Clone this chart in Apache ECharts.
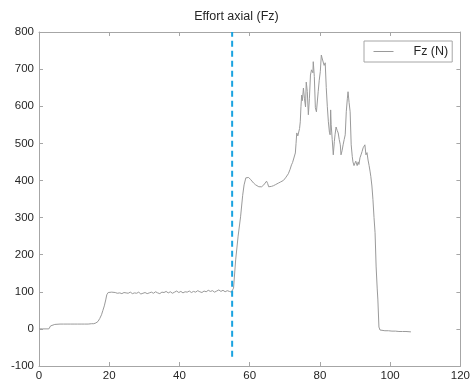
<!DOCTYPE html>
<html>
<head>
<meta charset="utf-8">
<script src="https://cdn.jsdelivr.net/npm/echarts@6/dist/echarts.min.js"></script>
<style>
html,body{margin:0;padding:0;background:#fff;}
#chart{width:473px;height:383px;}
</style>
</head>
<body>
<div id="chart"></div>
<script>
// ---- data ----
var titleText = 'Effort axial (Fz)';
var seriesName = 'Fz (N)';
var xTicks = [0, 20, 40, 60, 80, 100, 120];
var yTicks = [-100, 0, 100, 200, 300, 400, 500, 600, 700, 800];

var timeX = [
  0, 1, 2, 2.8, 3.3, 3.7, 4.5, 5, 6, 7, 8, 9, 10, 11, 12, 13, 14, 15, 15.6, 16.2,
  16.8, 17.3, 17.8, 18.2, 18.6, 19, 19.3, 19.7, 20.2, 20.7, 21.2, 21.7, 22.3, 23, 23.6, 24.2,
  24.8, 25.4, 26, 26.6, 27.2, 27.8, 28.4, 29, 29.6, 30.2, 30.8, 31.4, 32, 32.6, 33.2, 33.8,
  34.4, 35, 35.6, 36.2, 36.8, 37.4, 38, 38.6, 39.2, 39.8, 40.4, 41, 41.6, 42.2, 42.8, 43.4,
  44, 44.6, 45.2, 45.8, 46.4, 47, 47.6, 48.2, 48.8, 49.4, 50, 50.6, 51.2, 51.8, 52.4, 53,
  53.6, 54.2, 54.8, 55.2, 55.4, 56, 56.7, 57.4, 58, 58.4, 58.9, 59.3, 59.7, 60.3, 60.7, 61.1,
  61.7, 62, 62.6, 63.4, 64, 64.5, 64.8, 65.1, 65.4, 66.2, 66.8, 67.4, 68.2, 68.8, 69.1, 69.6,
  70.2, 70.6, 71, 71.5, 71.9, 72.2, 72.5, 73, 73.2, 73.4, 73.7, 73.9, 74.2, 74.4, 74.6, 74.8,
  75, 75.3, 75.6, 75.9, 76.1, 76.4, 76.7, 77, 77.3, 77.6, 78, 78.1, 78.4, 78.7, 79, 79.2,
  79.5, 79.8, 80.1, 80.4, 80.6, 80.9, 81.2, 81.5, 81.8, 82.1, 82.4, 82.7, 82.9, 83.05, 83.2, 83.5,
  83.8, 84.1, 84.3, 84.6, 84.9, 85.2, 85.5, 85.8, 86, 86.3, 86.6, 86.9, 87.2, 87.5, 87.8, 88,
  88.3, 88.6, 88.9, 89.2, 89.4, 89.7, 90, 90.2, 90.3, 90.6, 90.9, 91.1, 91.4, 91.7, 92, 92.3,
  92.6, 92.8, 93.1, 93.4, 93.7, 94, 94.3, 94.5, 94.8, 95.1, 95.4, 95.7, 96, 96.3, 96.5, 96.8,
  97.1, 97.6, 98.5, 99.5, 100.5, 101.5, 102.5, 103.5, 104.5, 105.9
];
var fzValues = [
  0, 0, 0, 0, 8, 12, 12, 13, 13, 13, 13, 13, 13, 13, 13, 13, 13, 14, 14, 16,
  20, 28, 38, 50, 62, 78, 92, 98, 95, 99, 96, 98, 96, 97, 95, 98,
  97, 96, 99, 95, 97, 96, 99, 94, 96, 98, 95, 97, 99, 96, 100, 97,
  95, 99, 98, 101, 97, 100, 96, 99, 102, 98, 101, 97, 100, 99, 102, 98,
  101, 99, 103, 100, 98, 102, 100, 104, 101, 103, 99, 102, 105, 101, 104, 100,
  103, 101, 99, 102, 110, 186, 250, 302, 360, 388, 407, 405, 408, 402, 404, 393,
  388, 393, 383, 383, 388, 393, 398, 392, 383, 384, 386, 389, 393, 396, 392, 400,
  407, 412, 418, 430, 442, 448, 450, 474, 500, 528, 520, 515, 540, 558, 600, 630,
  615, 649, 620, 598, 665, 640, 577, 620, 684, 698, 690, 720, 680, 596, 585, 590,
  639, 670, 693, 738, 730, 725, 710, 717, 650, 600, 558, 530, 523, 590, 550, 510,
  469, 505, 523, 544, 535, 528, 510, 496, 469, 480, 496, 510, 523, 585, 620, 639,
  610, 585, 496, 465, 450, 440, 442, 452, 447, 440, 450, 443, 461, 469, 478, 488,
  492, 496, 469, 475, 455, 440, 423, 410, 385, 348, 300, 259, 167, 110, 78, 5,
  -3, -4, -5, -5, -6, -6, -7, -7, -7, -8
];

// vertical dashed marker
var markerX = [55, 55];
var markerY = [-75, 800];

// ---- build ----
var lineData = timeX.map(function (x, i) { return [x, fzValues[i]]; });
var markerData = markerX.map(function (x, i) { return [x, markerY[i]]; });

var axisCol = '#a6a6a6';
var labelCol = '#262626';
var curveCol = '#9a9a9a';
var fontFam = 'Liberation Sans, Arial, sans-serif';

var chart = echarts.init(document.getElementById('chart'), null, {renderer: 'canvas'});
chart.setOption({
  animation: false,
  backgroundColor: '#fff',
  title: {
    text: titleText,
    left: 'center',
    top: 5,
    textStyle: {fontSize: 12.5, fontWeight: 'normal', color: labelCol, fontFamily: fontFam}
  },
  legend: {
    data: [{name: seriesName, itemStyle: {opacity: 0}}],
    left: 364,
    top: 41,
    padding: [4, 4, 4, 9],
    itemWidth: 20,
    itemHeight: 14,
    borderColor: '#a6a6a6',
    borderWidth: 1,
    backgroundColor: '#fff',
    itemStyle: {opacity: 0},
    lineStyle: {color: curveCol, width: 1},
    textStyle: {fontSize: 12.5, color: labelCol, fontFamily: fontFam, padding: [0, 0, 0, 15]}
  },
  grid: {left: 39, right: 10, top: 32, bottom: 17, containLabel: false},
  xAxis: [{
    type: 'value', min: xTicks[0], max: xTicks[xTicks.length - 1], interval: 20,
    axisLine: {show: true, onZero: false, lineStyle: {color: axisCol}},
    axisTick: {show: true, inside: true, length: 4, lineStyle: {color: axisCol}},
    axisLabel: {color: labelCol, fontSize: 11.5, fontFamily: fontFam, margin: 4},
    splitLine: {show: false}
  }, {
    type: 'value', position: 'top', min: xTicks[0], max: xTicks[xTicks.length - 1], interval: 20,
    axisLine: {show: true, onZero: false, lineStyle: {color: axisCol}},
    axisTick: {show: true, inside: true, length: 4, lineStyle: {color: axisCol}},
    axisLabel: {show: false},
    splitLine: {show: false}
  }],
  yAxis: [{
    type: 'value', min: yTicks[0], max: yTicks[yTicks.length - 1], interval: 100,
    axisLine: {show: true, onZero: false, lineStyle: {color: axisCol}},
    axisTick: {show: true, inside: true, length: 4, lineStyle: {color: axisCol}},
    axisLabel: {color: labelCol, fontSize: 11.5, fontFamily: fontFam, margin: 5},
    splitLine: {show: false}
  }, {
    type: 'value', position: 'right', min: yTicks[0], max: yTicks[yTicks.length - 1], interval: 100,
    axisLine: {show: true, onZero: false, lineStyle: {color: axisCol}},
    axisTick: {show: true, inside: true, length: 4, lineStyle: {color: axisCol}},
    axisLabel: {show: false},
    splitLine: {show: false}
  }],
  series: [{
    name: seriesName,
    type: 'line',
    data: lineData,
    symbol: 'none',
    showSymbol: false,
    lineStyle: {color: curveCol, width: 1},
    itemStyle: {color: curveCol},
    z: 3
  }, {
    name: 'marker',
    type: 'line',
    data: markerData,
    symbol: 'none',
    showSymbol: false,
    lineStyle: {color: '#1aa3e0', width: 2, type: [6, 4]},
    z: 4
  }]
});
</script>
</body>
</html>
